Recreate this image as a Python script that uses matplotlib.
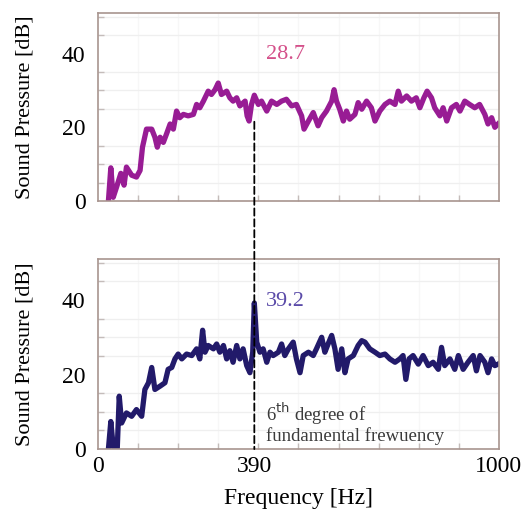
import matplotlib
matplotlib.use("Agg")
import matplotlib.pyplot as plt
from matplotlib.patches import ConnectionPatch

plt.rcParams['font.family'] = ['Liberation Serif', 'DejaVu Serif']

# Spectrum without excitation (upper panel)
freq_top = [26, 32, 38, 47, 57, 65, 71, 84, 96, 105, 111, 121, 134, 142, 148, 155, 163, 171,
            180, 188, 196, 204, 213, 225, 238, 246, 254, 263, 275, 283, 292, 300, 308, 321,
            329, 337, 346, 354, 367, 372, 377, 383, 390, 400, 408, 421, 433, 446, 458, 470,
            483, 495, 508, 514, 525, 537, 549, 558, 570, 583, 589, 595, 603, 612, 620, 628,
            641, 649, 658, 670, 682, 691, 703, 716, 728, 741, 749, 757, 770, 782, 794, 803,
            813, 821, 832, 840, 853, 861, 870, 882, 894, 903, 915, 927, 940, 952, 965, 973,
            982, 990, 998]
spl_top = [0, 9, 1, 4, 7.5, 4.3, 9.2, 7, 6.5, 8.3, 14.6, 19.5, 19.5, 17.3, 14.6, 17.3, 15.9,
           18.2, 20.9, 19.5, 24.4, 22.6, 23.5, 23.1, 23.5, 26.2, 25.3, 27.1, 29.8, 28.9, 30.2,
           32.0, 28.9, 29.8, 28.0, 27.1, 28.0, 25.8, 27.1, 23.1, 21.7, 26.2, 28.7, 26.2, 27.1,
           24.4, 27.1, 26.2, 27.1, 27.6, 25.8, 26.2, 23.1, 19.5, 21.7, 24.0, 20.4, 22.6, 24.4,
           27.1, 30.2, 27.1, 24.9, 21.7, 24.4, 22.2, 23.5, 26.7, 24.9, 27.1, 25.3, 21.7, 24.4,
           26.2, 27.1, 26.2, 29.8, 27.1, 28.5, 27.1, 28.0, 25.3, 28.0, 29.8, 28.0, 25.3, 23.1,
           25.3, 21.7, 25.3, 26.2, 24.4, 27.1, 26.2, 25.3, 26.2, 23.5, 20.9, 22.6, 20.0, 20.9]

# Spectrum with the 6th-order component (lower panel)
freq_bot = [26, 32, 38, 48, 53, 59, 71, 84, 96, 109, 117, 126, 134, 142, 155, 167, 175, 184,
            192, 200, 209, 221, 234, 246, 254, 261, 267, 275, 288, 296, 304, 313, 321, 329,
            337, 346, 354, 362, 371, 379, 386, 390, 396, 404, 412, 421, 429, 437, 450, 458,
            466, 475, 487, 495, 504, 512, 525, 537, 545, 558, 566, 574, 583, 591, 599, 608,
            616, 624, 637, 649, 658, 666, 678, 691, 703, 716, 728, 741, 753, 761, 768, 776,
            786, 799, 811, 824, 836, 849, 857, 865, 878, 890, 899, 911, 923, 936, 944, 953,
            965, 973, 982, 990, 998]
spl_bot = [0, 7.4, 0.6, 0, 14.2, 7, 9.7, 8.8, 10.6, 8.8, 16, 17.8, 21.9, 16, 16.9, 17.8, 21.4,
           21.9, 24.2, 25.5, 24.2, 25.5, 25.1, 26.9, 24.2, 31.9, 26, 27.8, 26.9, 28.2, 26,
           27.8, 24.2, 26.4, 23.3, 27.8, 24.2, 26.9, 22.4, 20.5, 26, 39.2, 28.7, 26, 26.9,
           23.3, 26, 25.1, 26, 28.2, 25.1, 26.9, 28.7, 24.2, 20.5, 25.1, 26, 25.1, 26.9, 30,
           26, 28.2, 30.5, 26.9, 21.4, 26.9, 20.5, 24.2, 25.1, 27.8, 29.1, 28.7, 26.9, 26,
           25.1, 25.5, 24.2, 23.3, 24.2, 25.1, 18.7, 24.2, 25.1, 22.8, 25.1, 22.4, 23.3, 21.4,
           27.3, 22.4, 24.2, 21.4, 25.1, 21.4, 23.3, 25.1, 21, 25.1, 23.3, 20.5, 24.2, 22.4,
           22.8]

x_ticks = [0, 390, 1000]
y_ticks = [0, 20, 40]
target_freq = 390
top_label = "28.7"
bot_label = "39.2"

fig = plt.figure(figsize=(5.24, 5.15), dpi=100)
ax1 = fig.add_axes([0.187, 0.6097, 0.765, 0.365])
ax2 = fig.add_axes([0.187, 0.128, 0.765, 0.369])

spine_col = '#a8958f'
for ax in (ax1, ax2):
    ax.set_xlim(0, 1000)
    ax.set_ylim(0, 51)
    for s in ax.spines.values():
        s.set_color(spine_col)
        s.set_linewidth(1.2)
    ax.set_xticks(range(100, 1000, 100), minor=True)
    ax.set_yticks(range(5, 51, 5), minor=True)
    ax.grid(True, which='minor', axis='y', color='#efefef', lw=0.9)
    ax.grid(True, which='minor', axis='x', color='#f7f7f7', lw=0.9)
    ax.set_axisbelow(True)
    ax.set_yticks(y_ticks)
    ax.tick_params(axis='y', which='major', length=0, labelsize=17, pad=9)
    ax.tick_params(axis='both', which='minor', direction='in', length=4,
                   color='#c4bcba', width=1)
    ax.set_ylabel("Sound Pressure [dB]", fontsize=16, labelpad=20)

ax1.set_xticks(x_ticks)
ax1.tick_params(axis='x', which='major', length=0, labelbottom=False)
ax2.set_xticks(x_ticks)
ax2.tick_params(axis='x', which='major', length=0, labelsize=17, pad=5)

ax1.plot(freq_top, spl_top, color='#981c94', lw=3.8, solid_joinstyle='round')
ax2.plot(freq_bot, spl_bot, color='#221a6a', lw=3.8, solid_joinstyle='round')

ax2.set_xlabel("Frequency [Hz]", fontsize=17, labelpad=8)

ax1.text(target_freq + 30, float(top_label) + 11, top_label, color='#d4508a',
         fontsize=16, ha='left', va='center')
ax2.text(target_freq + 30, float(bot_label) + 0.5, bot_label, color='#5a4aa8',
         fontsize=16, ha='left', va='center')
ax2.text(target_freq + 30, 7, "6$^{\\mathrm{th}}$ degree of\nfundamental frewuency",
         color='#3a3a3a', fontsize=13.5, ha='left', va='center', linespacing=1.0)

con = ConnectionPatch(xyA=(target_freq, 21.5), coordsA=ax1.transData,
                      xyB=(target_freq, 0), coordsB=ax2.transData,
                      color='black', lw=1.3, linestyle=(0, (4, 2)), zorder=5)
fig.add_artist(con)

fig.savefig("out.png", dpi=100)
